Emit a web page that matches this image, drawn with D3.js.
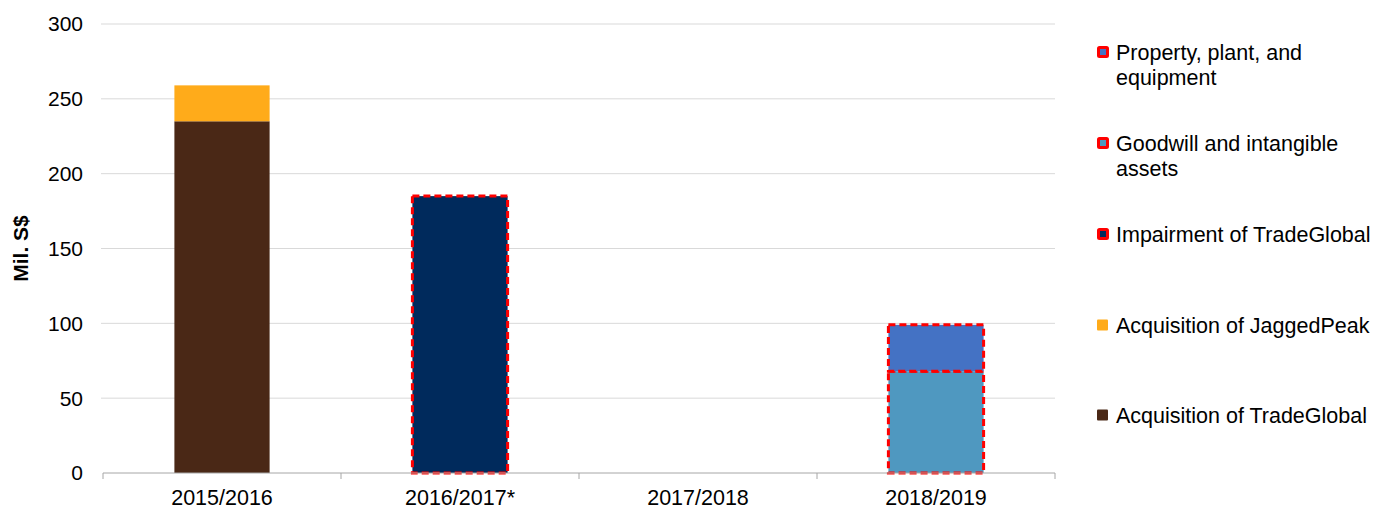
<!DOCTYPE html>
<html>
<head>
<meta charset="utf-8">
<script src="https://cdn.jsdelivr.net/npm/d3@7"></script>
<style>
  body { margin: 0; background: #fff; }
  svg text { font-family: "Liberation Sans", Arial, sans-serif; fill: #000; }
</style>
</head>
<body>
<div id="chart"></div>
<script>
// categories and series (Mil. S$)
var years = ["2015/2016", "2016/2017*", "2017/2018", "2018/2019"];
var acqTradeGlobal = [235, 0, 0, 0];
var acqJaggedPeak = [24, 0, 0, 0];
var impairTradeGlobal = [0, 185, 0, 0];
var goodwill = [0, 0, 0, 68];
var ppe = [0, 0, 0, 31];
var yTicks = [0, 50, 100, 150, 200, 250, 300];

// series stacked bottom -> top
var series = [
  {name: "Acquisition of TradeGlobal", values: acqTradeGlobal, color: "#4a2816", dashed: false},
  {name: "Acquisition of JaggedPeak", values: acqJaggedPeak, color: "#ffab1a", dashed: false},
  {name: "Impairment of TradeGlobal", values: impairTradeGlobal, color: "#002a5c", dashed: true},
  {name: "Goodwill and intangible assets", values: goodwill, color: "#4f98c0", dashed: true},
  {name: "Property, plant, and equipment", values: ppe, color: "#4472c4", dashed: true}
];

var W = 1373, H = 509;
var margin = {top: 24, right: 318, bottom: 36, left: 103},
  width = W - margin.left - margin.right,
  height = H - margin.top - margin.bottom;

var svg = d3.select("#chart").append("svg")
  .attr("width", W)
  .attr("height", H);

var g = svg.append("g")
  .attr("transform", "translate(" + margin.left + "," + margin.top + ")");

var x = d3.scaleBand()
  .domain(years)
  .range([0, width])
  .paddingInner(0.6)
  .paddingOuter(0.3);

var y = d3.scaleLinear()
  .domain([0, 300])
  .range([height, 0]);

// gridlines
g.append("g")
  .selectAll("line")
  .data(yTicks.filter(function(d) { return d > 0; }))
  .join("line")
  .attr("x1", -2)
  .attr("x2", width)
  .attr("y1", function(d) { return y(d); })
  .attr("y2", function(d) { return y(d); })
  .attr("stroke", "#d9d9d9")
  .attr("stroke-width", 1);

// y labels
g.append("g")
  .selectAll("text")
  .data(yTicks)
  .join("text")
  .attr("x", -20)
  .attr("y", function(d) { return y(d); })
  .attr("dy", "0.35em")
  .attr("text-anchor", "end")
  .style("font-size", "21px")
  .text(function(d) { return d; });

// axis title
svg.append("text")
  .attr("transform", "translate(28," + (margin.top + height / 2) + ") rotate(-90)")
  .attr("text-anchor", "middle")
  .style("font-size", "21px")
  .style("font-weight", "bold")
  .text("Mil. S$");

// stacked bars
var stackData = years.map(function(yr, i) {
  var row = {year: yr};
  series.forEach(function(s) { row[s.name] = s.values[i]; });
  return row;
});
var stack = d3.stack().keys(series.map(function(s) { return s.name; }));
var layers = stack(stackData);

layers.forEach(function(layer, li) {
  var s = series[li];
  var rects = g.append("g")
    .selectAll("rect")
    .data(layer.filter(function(d) { return d[1] - d[0] > 0; }))
    .join("rect")
    .attr("x", function(d) { return x(d.data.year); })
    .attr("width", x.bandwidth())
    .attr("y", function(d) { return y(d[1]); })
    .attr("height", function(d) { return y(d[0]) - y(d[1]); })
    .attr("fill", s.color);
  if (s.dashed) {
    rects.attr("stroke", "#ff0000")
      .attr("stroke-width", 3)
      .attr("stroke-dasharray", "7,4");
  }
});

// x axis
var xAxis = g.append("g")
  .attr("transform", "translate(0," + height + ")");
xAxis.append("line")
  .attr("x1", 0).attr("x2", width)
  .attr("stroke", "#a6a6a6");
var bounds = years.map(function(d) { return x(d) - x.step() * x.paddingInner() / 2; });
bounds.push(width);
bounds[0] = 0;
xAxis.selectAll(".tk")
  .data(bounds)
  .join("line")
  .attr("class", "tk")
  .attr("x1", function(d) { return d; })
  .attr("x2", function(d) { return d; })
  .attr("y1", 0).attr("y2", 6)
  .attr("stroke", "#a6a6a6");
xAxis.selectAll("text")
  .data(years)
  .join("text")
  .attr("x", function(d) { return x(d) + x.bandwidth() / 2; })
  .attr("y", 32)
  .attr("text-anchor", "middle")
  .style("font-size", "21.5px")
  .text(function(d) { return d; });

// legend (top -> bottom is reverse of stack)
var legendItems = [
  {s: series[4], lines: ["Property, plant, and", "equipment"], y: 52},
  {s: series[3], lines: ["Goodwill and intangible", "assets"], y: 143},
  {s: series[2], lines: ["Impairment of TradeGlobal"], y: 234},
  {s: series[1], lines: ["Acquisition of JaggedPeak"], y: 325},
  {s: series[0], lines: ["Acquisition of TradeGlobal"], y: 415}
];

var legend = svg.append("g")
  .selectAll("g")
  .data(legendItems)
  .join("g")
  .attr("transform", function(d) { return "translate(1097," + d.y + ")"; });

legend.append("rect")
  .attr("x", function(d) { return d.s.dashed ? 1.5 : 0; })
  .attr("y", function(d) { return d.s.dashed ? -4.5 : -5.5; })
  .attr("width", function(d) { return d.s.dashed ? 9 : 11; })
  .attr("height", function(d) { return d.s.dashed ? 9 : 11; })
  .attr("fill", function(d) { return d.s.color; })
  .attr("stroke", function(d) { return d.s.dashed ? "#ff0000" : "none"; })
  .attr("stroke-width", 3)
  .attr("rx", 1);

legend.selectAll("text")
  .data(function(d) { return d.lines; })
  .join("text")
  .attr("x", 19)
  .attr("y", function(d, i) { return i * 25; })
  .attr("dy", "0.35em")
  .style("font-size", "21.5px")
  .text(function(d) { return d; });
</script>
</body>
</html>
